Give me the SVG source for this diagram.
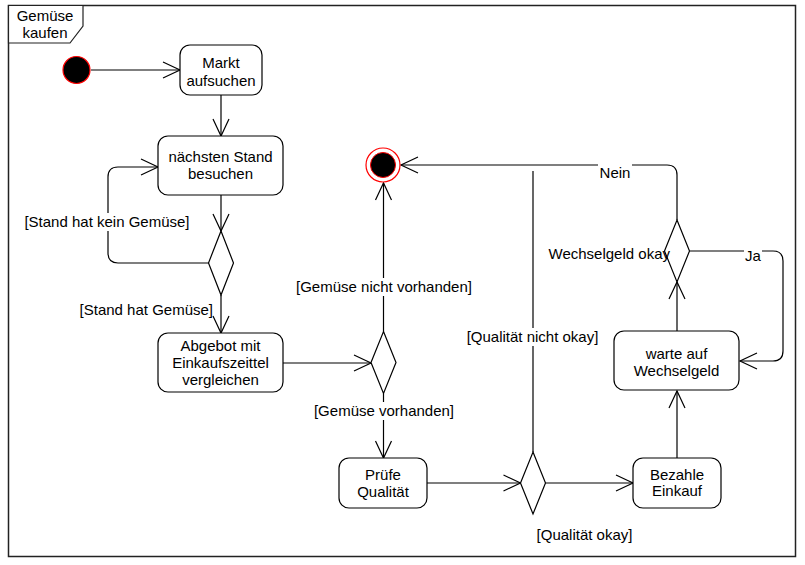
<svg xmlns="http://www.w3.org/2000/svg" width="805" height="565" viewBox="0 0 805 565">
<defs>
<style>
text{font-family:"Liberation Sans",Arial,sans-serif;font-size:15px;fill:#000;text-anchor:middle}
.n{fill:#fff;stroke:#000;stroke-width:1.2}
.c{fill:none;stroke:#000;stroke-width:1.2}
.bg{fill:#fff;stroke:none}
</style>
<marker id="arr" markerUnits="userSpaceOnUse" markerWidth="20" markerHeight="20" refX="17" refY="8" orient="auto" overflow="visible">
<path d="M0,0 L17,8 L0,16" fill="none" stroke="#000" stroke-width="1.2"/>
</marker>
</defs>
<rect x="0" y="0" width="805" height="565" fill="#fff"/>
<g id="frame">
<rect x="8.5" y="5.5" width="787" height="551" fill="none" stroke="#222" stroke-width="1.5"/>
<path d="M8.5,5.5 L83,5.5 L83,26 L70,43 L8.5,43 Z" fill="#fff" stroke="#222" stroke-width="1.2"/>
<text x="45" y="21">Gemüse</text>
<text x="45" y="38">kaufen</text>
</g>
<g id="connectors">
<path class="c" d="M91,70 L180,70" marker-end="url(#arr)"/>
<path class="c" d="M221,95 L221,136" marker-end="url(#arr)"/>
<path class="c" d="M221,195 L221,231" marker-end="url(#arr)"/>
<path class="c" d="M208.5,263 L118,263 Q108,263 108,253 L108,177 Q108,167 118,167 L158,167" marker-end="url(#arr)"/>
<path class="c" d="M221,295 L221,333" marker-end="url(#arr)"/>
<path class="c" d="M283,363 L371,363" marker-end="url(#arr)"/>
<path class="c" d="M383.5,331.5 L383.5,183" marker-end="url(#arr)"/>
<path class="c" d="M383.5,393.5 L383.5,458" marker-end="url(#arr)"/>
<path class="c" d="M427,483 L520.5,483" marker-end="url(#arr)"/>
<path class="c" d="M545.5,483 L633,483" marker-end="url(#arr)"/>
<path class="c" d="M533,452 L533,171"/>
<path class="c" d="M677,458 L677,391" marker-end="url(#arr)"/>
<path class="c" d="M677,331 L677,282" marker-end="url(#arr)"/>
<path class="c" d="M677,220 L677,175 Q677,165 667,165 L401,165" marker-end="url(#arr)"/>
<path class="c" d="M689.5,251 L773,251 Q783,251 783,261 L783,351 Q783,361 773,361 L740,361" marker-end="url(#arr)"/>
<rect class="bg" x="25" y="213" width="165" height="18"/>
<text x="107" y="227">[Stand hat kein Gemüse]</text>
<rect class="bg" x="296" y="278" width="177" height="18"/>
<text x="384" y="292">[Gemüse nicht vorhanden]</text>
<rect class="bg" x="314" y="402" width="141" height="18"/>
<text x="384" y="416">[Gemüse vorhanden]</text>
<rect class="bg" x="466" y="328" width="133" height="18"/>
<text x="532.5" y="342">[Qualität nicht okay]</text>
<text x="584.5" y="540">[Qualität okay]</text>
<rect class="bg" x="598" y="162" width="34" height="20"/>
<text x="615" y="178">Nein</text>
<rect class="bg" x="744" y="247" width="18" height="17"/>
<text x="753" y="260.5">Ja</text>
</g>
<g id="start"><circle cx="76.5" cy="70" r="13.5" fill="#000" stroke="#f00" stroke-width="1.2"/></g>
<g id="end">
<circle cx="383" cy="165" r="17" fill="#fff" stroke="#f00" stroke-width="1.2"/>
<circle cx="383" cy="165" r="12.5" fill="#000" stroke="#f00" stroke-width="1"/>
</g>
<g id="markt"><rect class="n" x="180" y="45" width="82" height="50" rx="10"/><text x="221" y="68">Markt</text><text x="221" y="85.5">aufsuchen</text></g>
<g id="stand"><rect class="n" x="158" y="136" width="125" height="59" rx="10"/><text x="220.5" y="161.5">nächsten Stand</text><text x="220.5" y="179">besuchen</text></g>
<g id="d1"><polygon class="n" points="221,231 233.5,263 221,295 208.5,263"/></g>
<g id="abgebot"><rect class="n" x="158" y="333" width="125" height="59" rx="10"/><text x="220.5" y="350.5">Abgebot mit</text><text x="220.5" y="368">Einkaufszeittel</text><text x="220.5" y="385">vergleichen</text></g>
<g id="d2"><polygon class="n" points="383.5,331.5 396,362.5 383.5,393.5 371,362.5"/></g>
<g id="pruefe"><rect class="n" x="339" y="458" width="88" height="50" rx="10"/><text x="383" y="479.5">Prüfe</text><text x="383" y="496.5">Qualität</text></g>
<g id="d3"><polygon class="n" points="533,452 545.5,483 533,514 520.5,483"/></g>
<g id="bezahle"><rect class="n" x="633" y="458" width="88" height="50" rx="10"/><text x="677" y="479.5">Bezahle</text><text x="677" y="496">Einkauf</text></g>
<g id="warte"><rect class="n" x="614" y="331" width="125" height="59" rx="10"/><text x="676.5" y="359">warte auf</text><text x="676.5" y="375.5">Wechselgeld</text></g>
<g id="d4"><polygon class="n" points="677,220 689.5,251 677,282 664.5,251"/></g>
<g id="d4label"><text x="670" y="259" style="text-anchor:end">Wechselgeld okay</text></g>
<g id="d1label"><text x="213" y="315" style="text-anchor:end">[Stand hat Gemüse]</text></g>
</svg>
